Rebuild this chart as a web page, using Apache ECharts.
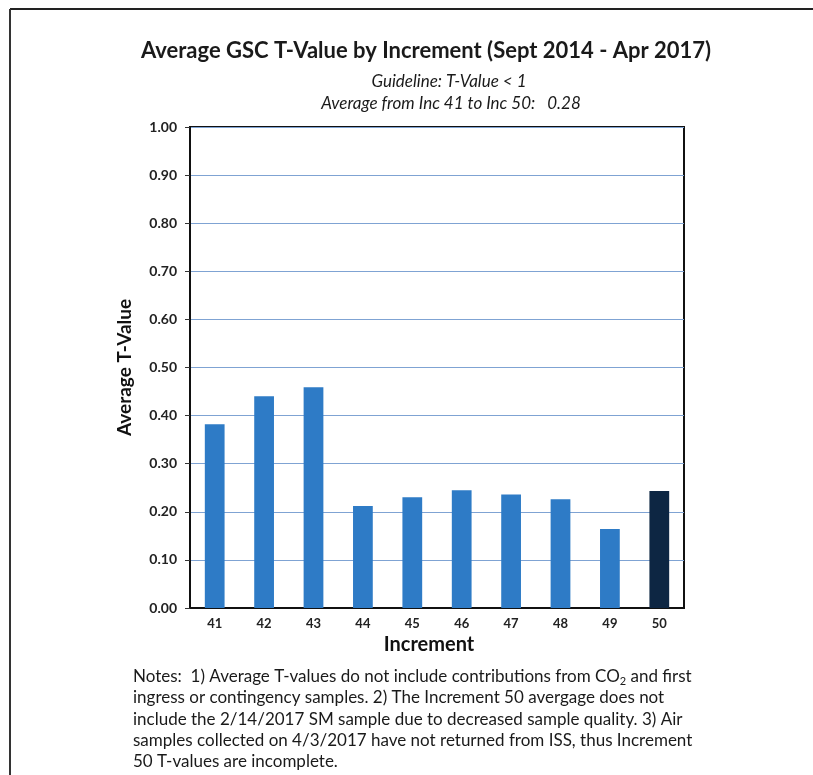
<!DOCTYPE html>
<html>
<head>
<meta charset="utf-8">
<script src="https://cdn.jsdelivr.net/npm/echarts@6/dist/echarts.min.js"></script>
<style>html,body{margin:0;padding:0;background:#fff;}#c{width:813px;height:775px;}</style>
</head>
<body>
<div id="c"></div>
<script>
const categories = ['41','42','43','44','45','46','47','48','49','50'];
const values = [0.382, 0.440, 0.459, 0.212, 0.230, 0.245, 0.236, 0.226, 0.164, 0.243];
const highlightCategory = '50';
const yTicks = [0, 0.1, 0.2, 0.3, 0.4, 0.5, 0.6, 0.7, 0.8, 0.9, 1.0];
const averageValue = '0.28';

const FONT = 'Lato, "Open Sans", sans-serif';
const chart = echarts.init(document.getElementById('c'), null, {renderer: 'canvas'});

const notesLines = [
  'Notes:  1) Average T-values do not include contributions from CO{sub|2} and first',
  'ingress or contingency samples. 2) The Increment 50 avergage does not',
  'include the 2/14/2017 SM sample due to decreased sample quality. 3) Air',
  'samples collected on 4/3/2017 have not returned from ISS, thus Increment',
  '50 T-values are incomplete.'
];

chart.setOption({
  backgroundColor: '#ffffff',
  animation: false,
  title: [
    {text: 'Average GSC T-Value by Increment (Sept 2014 - Apr 2017)', left: 421, top: 35, textAlign: 'center',
     textStyle: {fontFamily: FONT, fontWeight: 'bold', fontSize: 22, color: '#1a1a1a'}},
    {text: 'Guideline: T-Value < 1', left: 444, top: 68, textAlign: 'center',
     textStyle: {fontFamily: FONT, fontStyle: 'italic', fontWeight: 'normal', fontSize: 17, color: '#1a1a1a'}},
    {text: 'Average from Inc 41 to Inc 50:   ' + averageValue, left: 446, top: 90, textAlign: 'center',
     textStyle: {fontFamily: FONT, fontStyle: 'italic', fontWeight: 'normal', fontSize: 17, color: '#1a1a1a'}}
  ],
  grid: {left: 190, top: 127, width: 494, bottom: 167, show: true, borderColor: '#111', borderWidth: 2, backgroundColor: 'transparent'},
  xAxis: {
    type: 'category', data: categories,
    axisLine: {lineStyle: {color: '#111', width: 2}},
    axisTick: {show: false},
    axisLabel: {fontFamily: FONT, fontWeight: 'bold', fontSize: 13, color: '#222', margin: 9},
    name: 'Increment', nameLocation: 'middle', nameGap: 26,
    nameTextStyle: {fontFamily: FONT, fontWeight: 'bold', fontSize: 20, color: '#111', padding: [0, 16, 0, 0]}
  },
  yAxis: {
    type: 'value', min: 0, max: 1, interval: 0.1,
    axisLine: {show: true, lineStyle: {color: '#111', width: 2}},
    axisTick: {show: true, length: 5, inside: false, lineStyle: {color: '#333', width: 1}},
    axisLabel: {fontFamily: FONT, fontWeight: 'bold', fontSize: 14, color: '#222', margin: 13,
      formatter: v => v.toFixed(2)},
    splitLine: {lineStyle: {color: '#7fa3d3', width: 1}},
    name: 'Average T-Value', nameLocation: 'middle', nameGap: 56, nameRotate: 90,
    nameTextStyle: {fontFamily: FONT, fontWeight: 'bold', fontSize: 19, color: '#111'}
  },
  series: [{
    type: 'bar', barWidth: '40%',
    data: values.map((v, i) => ({value: v, itemStyle: {color: categories[i] === highlightCategory ? '#0d2643' : '#2e7bc6'}}))
  }],
  graphic: [
    {type: 'line', shape: {x1: 10, y1: 9, x2: 813, y2: 9}, style: {stroke: '#222', lineWidth: 2}},
    {type: 'line', shape: {x1: 10, y1: 9, x2: 10, y2: 775}, style: {stroke: '#333', lineWidth: 2}},
    {type: 'text', left: 133, top: 666,
     style: {text: notesLines.join('\n'), fontFamily: FONT, fontSize: 17, lineHeight: 21.3, fill: '#1a1a1a',
       rich: {sub: {fontSize: 11, verticalAlign: 'bottom', padding: [7, 0, 0, 0], fontFamily: FONT, fill: '#1a1a1a'}}}}
  ]
});
</script>
</body>
</html>
